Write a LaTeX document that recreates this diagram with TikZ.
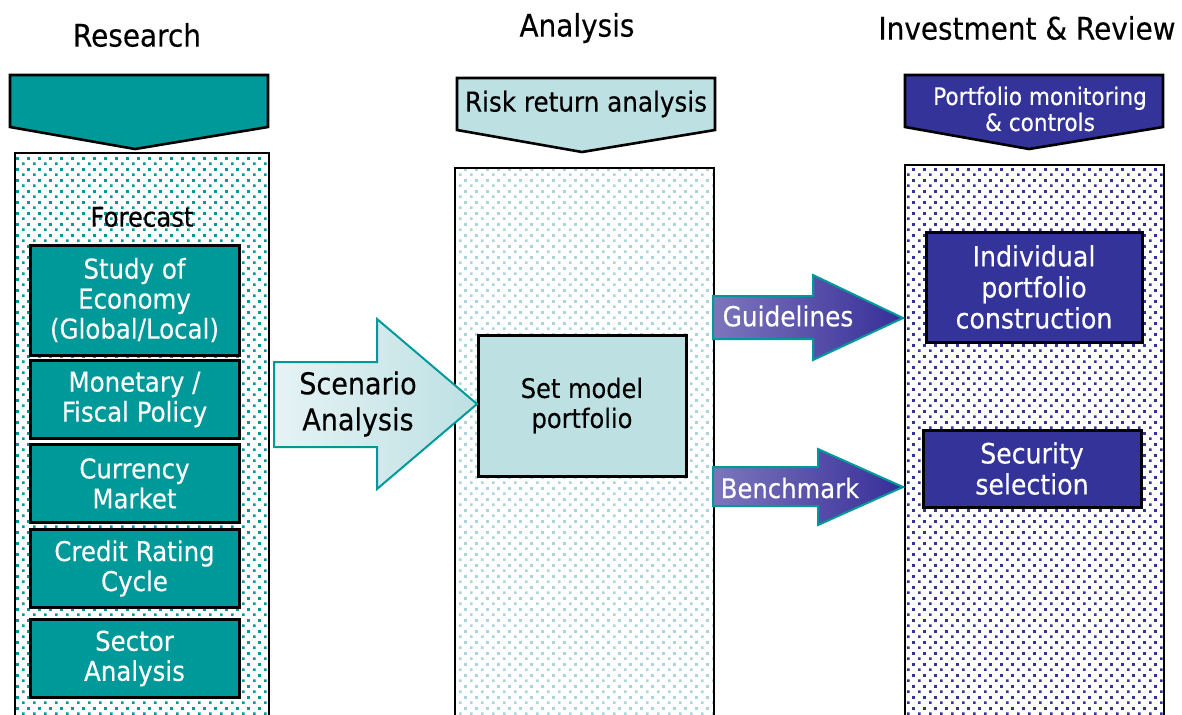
\documentclass[tikz,border=0pt]{standalone}
\usepackage{fontspec}
\setmainfont{DejaVu Sans}[FakeStretch=0.9,FakeBold=0.3]
\usetikzlibrary{patterns,positioning}
\definecolor{resteal}{RGB}{0,153,153}
\definecolor{anateal}{RGB}{189,224,227}
\definecolor{anadots}{RGB}{170,214,219}
\definecolor{invblue}{RGB}{51,51,153}
\definecolor{scenleft}{RGB}{230,243,245}
\definecolor{blueleft}{RGB}{124,118,188}
\definecolor{blueright}{RGB}{54,46,152}
% staggered dots for the three columns
\pgfdeclarepatternformonly{stagdots}{\pgfpointorigin}{\pgfqpoint{5.6pt}{5.6pt}}{\pgfqpoint{5.6pt}{5.6pt}}{
  \pgfpathrectangle{\pgfqpoint{0pt}{0pt}}{\pgfqpoint{1.4pt}{1.4pt}}
  \pgfpathrectangle{\pgfqpoint{2.8pt}{2.8pt}}{\pgfqpoint{1.4pt}{1.4pt}}
  \pgfusepath{fill}}
\tikzset{
    %Define style for the column frames
    column/.style={
           rectangle, draw=black, line width=1pt,
           pattern=stagdots,
           anchor=north west,
           inner sep=0pt},
    %Define style for the headers
    hdr/.style={draw=black, line width=1.3pt, line join=miter},
    title/.style={font=\fontsize{15.5}{18}\selectfont},
    % Define boxes inside the columns
    tealbox/.style={
           rectangle, draw=black, line width=1.5pt,
           fill=resteal, text=white,
           minimum width=104.5pt, minimum height=39pt,
           align=center, inner sep=1pt,
           font=\fontsize{13.6}{15}\selectfont},
    bluebox/.style={
           rectangle, draw=black, line width=1.5pt,
           fill=invblue, text=white,
           minimum width=108pt, minimum height=38.5pt,
           align=center, inner sep=1pt,
           font=\fontsize{14}{15.5}\selectfont},
    % Define block arrow style
    blockarrow/.style={draw=resteal, line width=1pt, line join=miter}
}
\begin{document}
\begin{tikzpicture}[x=0.5pt, y=-0.5pt]
\useasboundingbox (0,0) rectangle (1182,714);
\clip (0,0) rectangle (1182,714);

% titles
\node[title] (restitle) at (137,35) {Research};
\node[title] (anatitle) at (577,28) {Analysis};
\node[title] (invtitle) at (1027,28) {Investment \& Review};

% columns
\node[column, pattern color=resteal, minimum width=127pt, minimum height=290pt] (rescol) at (14,152) {};
\node[column, pattern color=anadots, minimum width=129.5pt, minimum height=283pt] (anacol) at (454,167) {};
\node[column, pattern color=invblue, minimum width=129.5pt, minimum height=284pt] (invcol) at (904,164) {};

% headers
\draw[hdr, fill=resteal] (10,75) -- (268,75) -- (268,127) -- (135,149) -- (10,127) -- cycle;
\draw[hdr, fill=anateal] (457,78) -- (715,78) -- (715,130) -- (582,152) -- (457,130) -- cycle;
\node[font=\fontsize{13.7}{15}\selectfont] (riskret) at (586,104) {Risk return analysis};
\draw[hdr, fill=invblue] (905,75) -- (1163,75) -- (1163,127) -- (1029,149) -- (905,127) -- cycle;
\node[text=white, align=center, font=\fontsize{12}{13}\selectfont] (monitor) at (1040,109) {Portfolio monitoring\\\& controls};

% research column
\node[font=\fontsize{13.5}{15}\selectfont] (forecast) at (142,217) {Forecast};
\node[tealbox, minimum height=55pt] (econ) at (134.5,300) {Study of\\Economy\\(Global/Local)};
\node[tealbox] (monetary) at (134.5,399.5) {Monetary /\\Fiscal Policy};
\node[tealbox] (currency) at (134.5,483.5) {Currency\\Market};
\node[tealbox] (credit) at (134.5,568.5) {Credit Rating\\Cycle};
\node[tealbox] (sector) at (134.5,658.5) {Sector\\Analysis};

% analysis column
\node[rectangle, draw=black, line width=1.5pt, fill=anateal,
      minimum width=104pt, minimum height=70.5pt, align=center,
      font=\fontsize{13.4}{15}\selectfont] (model) at (582,405.5) {Set model\\portfolio};

% investment column
\node[bluebox, minimum height=55pt] (indiv) at (1034,287) {Individual\\portfolio\\construction};
\node[bluebox, minimum width=109pt] (secsel) at (1032,468.5) {Security\\selection};

% block arrows
\draw[blockarrow, left color=scenleft, right color=anateal]
  (274,362) -- (377,362) -- (377,319) -- (477,404) -- (377,489) -- (377,447) -- (274,447) -- cycle;
\node[align=center, font=\fontsize{15}{18}\selectfont] (scen) at (358,404) {Scenario\\Analysis};

\draw[blockarrow, left color=blueleft, right color=blueright]
  (713,296) -- (813,296) -- (813,275) -- (903,318) -- (813,360) -- (813,339) -- (713,339) -- cycle;
\node[text=white, font=\fontsize{13.8}{15}\selectfont] (guide) at (788,316) {Guidelines};

\draw[blockarrow, left color=blueleft, right color=blueright]
  (713,467) -- (818,467) -- (818,449) -- (903,487) -- (818,525) -- (818,506) -- (713,506) -- cycle;
\node[text=white, font=\fontsize{13.5}{15}\selectfont] (bench) at (790,488) {Benchmark};
\end{tikzpicture}
\end{document}
